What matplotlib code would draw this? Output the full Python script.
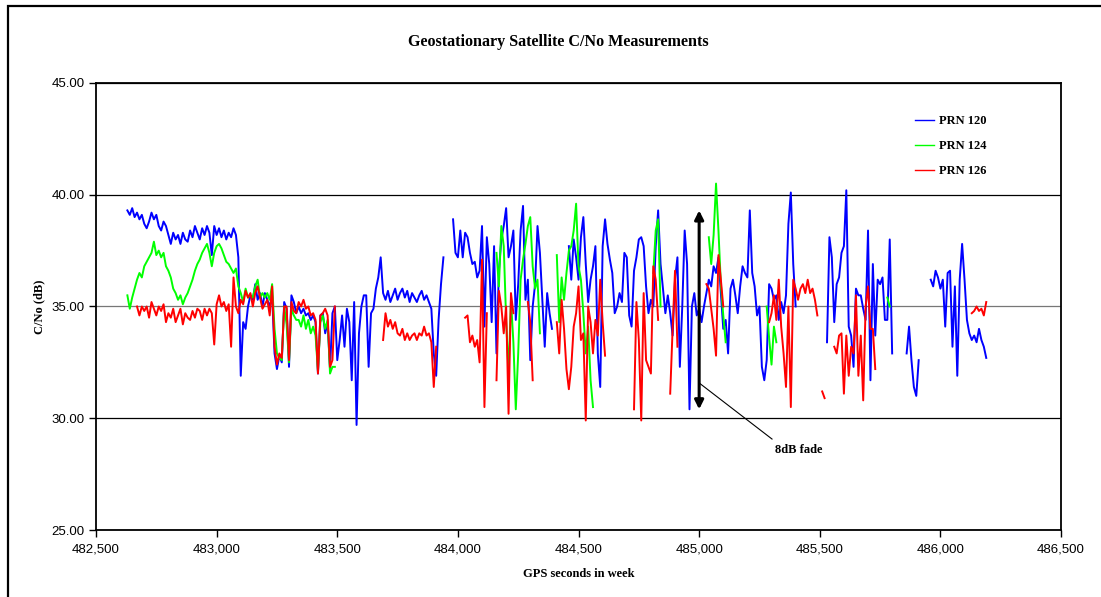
#!/usr/bin/env python3
"""C/No of the three geostationary SBAS satellites over one logging session."""
import numpy as np
import matplotlib
matplotlib.use("Agg")
import matplotlib.pyplot as plt  # noqa: E402
from matplotlib.patches import Rectangle  # noqa: E402
from matplotlib.ticker import FuncFormatter, MultipleLocator  # noqa: E402

STEP = 10  # seconds between logged samples

# (first epoch in GPS seconds of week, C/No in dB every STEP seconds)
PRN120 = [
    (482630, [39.3, 39.1, 39.4, 39.0, 39.2, 38.9, 39.1, 38.7, 38.5, 38.8,
              39.2, 38.9, 39.1, 38.6, 38.4, 38.8, 38.6, 38.2, 37.8, 38.3,
              38.0, 38.2, 37.8, 38.3, 38.0, 37.9, 38.4, 38.1, 38.6, 38.3,
              38.0, 38.5, 38.2, 38.6, 38.3, 37.3, 38.6, 38.2, 38.5, 38.1,
              38.4, 38.0, 38.3, 38.1, 38.5, 38.2, 37.2, 31.9, 34.3, 34.0,
              35.0, 35.5, 35.3, 36.0, 35.3, 35.6, 35.0, 35.6, 35.3, 35.0,
              35.5, 32.9, 32.2, 32.8, 32.5, 35.2, 34.9, 32.3, 35.5, 35.2,
              34.7, 35.0, 34.7, 34.9, 34.6, 34.7, 34.4, 34.6, 34.3, 32.0,
              34.6, 34.7, 33.8, 34.3, 32.2, 34.7, 35.0, 32.6, 33.5, 34.6,
              33.2, 34.9, 34.3, 31.7, 35.2, 29.7, 33.8, 35.0, 35.5, 35.5,
              32.3, 34.7, 34.9, 35.8, 36.3, 37.2, 35.6, 35.3, 35.7, 35.2,
              35.5, 35.8, 35.3, 35.6, 35.8, 35.4, 35.7, 35.2, 35.6, 35.4,
              35.2, 35.5, 35.7, 35.3, 35.5, 35.2, 34.9, 32.9, 31.9, 34.4,
              36.0, 37.2]),
    (483980, [38.9, 37.4, 37.2, 38.4, 37.2, 38.3, 38.1, 37.4, 36.9, 37.0,
              36.3, 36.6, 38.6, 34.1, 38.1, 36.9, 34.3, 37.7, 32.9, 36.6,
              38.0, 38.6, 39.4, 37.2, 37.7, 38.4, 34.4, 36.0, 38.4, 39.5,
              35.3, 36.2, 32.6, 35.0, 36.0, 38.6, 37.4, 35.3, 33.2, 35.6,
              34.7, 34.0]),
    (484460, [37.7, 36.2, 38.0, 37.2, 36.2, 38.1, 39.0, 36.9, 35.2, 36.2,
              36.8, 37.7, 32.9, 31.4, 37.7, 38.9, 37.8, 37.1, 36.5, 34.7,
              35.0, 35.6, 35.2, 37.4, 37.2, 34.6, 34.1, 36.6, 37.2, 38.0,
              38.1, 37.7, 35.9, 34.7, 35.3, 35.0, 37.7, 39.3, 36.9, 35.8,
              34.7, 35.5, 34.7, 33.7, 36.2, 37.2, 32.3, 35.0, 38.4, 36.9,
              30.4, 35.0, 35.6, 34.6, 34.9, 34.3, 35.0, 35.6, 36.2, 35.9,
              36.8, 36.5, 37.2, 35.6, 34.0, 34.4, 32.9, 35.8, 36.2, 35.5,
              34.7, 35.9, 36.8, 36.5, 36.3, 39.3, 36.5, 35.9, 34.6, 35.0,
              32.3, 31.7, 32.6, 36.0, 35.8, 35.3, 35.5, 34.4, 35.2, 34.7,
              35.5, 38.7, 40.1, 36.9, 35.0]),
    (485530, [33.4, 38.1, 37.2, 34.3, 36.0, 36.3, 37.4, 37.7, 40.2, 34.1,
              33.7, 32.3, 35.8, 35.5, 35.5, 34.9, 34.4, 38.4, 31.7, 36.9,
              33.7, 36.2, 36.0, 36.3, 34.4, 34.4, 38.0, 32.9]),
    (485860, [32.9, 34.1, 32.6, 31.4, 31.0, 32.6]),
    (485960, [36.2, 35.9, 36.6, 36.3, 35.8, 36.2, 34.1, 36.5, 36.6, 33.2,
              35.9, 31.9, 36.2, 37.8, 36.2, 34.4, 33.8, 33.5, 33.7, 33.4,
              34.0, 33.5, 33.2, 32.7]),
]

PRN124 = [
    (482630, [35.5, 34.9, 35.4, 35.8, 36.2, 36.5, 36.3, 36.8, 37.0, 37.2,
              37.4, 37.9, 37.3, 37.5, 37.2, 37.4, 36.8, 36.6, 36.3, 35.8,
              35.6, 35.3, 35.5, 35.1, 35.4, 35.6, 35.9, 36.2, 36.6, 36.9,
              37.1, 37.4, 37.6, 37.8, 37.4, 36.8, 37.4, 37.7, 37.8, 37.6,
              37.3, 37.0, 36.9, 36.7, 36.5, 36.7, 35.9, 35.6, 35.2, 35.8,
              35.4, 35.5, 35.4, 35.9, 36.2, 35.4, 35.6, 35.4, 35.6, 35.3,
              36.0, 34.0, 32.9, 32.7, 32.6, 35.0, 34.2, 32.5, 34.9, 34.6,
              34.4, 34.4, 34.1, 34.6, 34.0, 34.4, 33.8, 34.1, 33.7, 32.1,
              34.3, 34.6, 34.0, 34.4, 32.0, 32.3, 32.3]),
    (484160, [37.4, 35.9, 38.6, 37.7, 34.4, 32.0, 35.3, 33.4, 30.4, 32.9,
              36.2, 37.1, 37.8, 38.6, 39.0, 36.8, 35.8, 36.2, 33.8]),
    (484410, [37.3, 34.3, 36.3, 35.3, 36.5, 37.5, 37.7, 38.4, 39.6, 36.8,
              36.2, 34.7, 32.9, 34.1, 31.7, 30.5]),
    (484810, [36.5, 38.4, 38.9, 35.0]),
    (485040, [38.1, 36.9, 38.2, 40.5, 38.4, 36.0, 34.6, 33.4]),
    (485280, [35.0, 33.6, 32.4, 34.1, 33.4]),
    (485780, [35.4, 35.0]),
]

PRN126 = [
    (482670, [35.0, 34.6, 35.0, 34.8, 35.0, 34.5,
              35.2, 34.9, 34.6, 35.0, 34.8, 35.1, 34.3, 34.7, 34.5, 34.9,
              34.3, 34.6, 34.9, 34.2, 34.7, 34.5, 34.4, 34.8, 34.5, 34.9,
              34.8, 34.4, 34.9, 34.6, 34.9, 34.7, 33.3, 35.1, 35.5, 35.0,
              35.2, 34.8, 35.1, 33.2, 36.3, 35.0, 34.7, 35.3, 35.1, 35.7,
              35.4, 35.6, 35.0, 35.6, 35.9, 35.4, 34.9, 35.1, 35.3, 34.6,
              35.9, 33.2, 32.4, 32.9, 32.7, 35.0, 35.0, 32.6, 35.2, 34.8,
              34.7, 35.2, 35.0, 35.3, 34.9, 35.0, 34.6, 34.7, 34.4, 32.0,
              34.6, 34.7, 34.9, 34.6, 32.3, 32.6, 35.0]),
    (483690, [33.5, 34.7, 34.1, 34.4, 34.0, 34.3, 33.8, 33.7, 34.0, 33.5,
              33.8, 33.5, 33.7, 33.8, 33.5, 33.8, 33.7, 34.1, 33.7, 33.8,
              33.4, 31.4, 33.2]),
    (484030, [34.5, 34.6, 33.4, 33.7, 33.2, 33.5, 32.5, 37.1, 30.5, 34.7]),
    (484160, [31.7, 35.7, 35.0, 33.8, 35.0, 30.2, 35.6, 34.7]),
    (484290, [35.2, 34.3, 31.7]),
    (484410, [34.3, 32.9, 35.3, 34.0, 32.2, 31.3, 32.3, 34.1, 34.7, 35.9,
              33.5, 33.8, 29.9, 35.0, 34.3, 32.9, 34.4, 33.7, 36.2, 34.3,
              32.8]),
    (484730, [30.4, 35.2, 33.5, 29.9, 35.6, 32.6, 32.3, 32.0, 36.8, 36.2,
              34.4]),
    (484880, [31.1, 34.0, 36.6, 33.2]),
    (485030, [36.0, 35.8, 34.9, 34.0, 32.8, 37.3, 36.2, 35.0]),
    (485290, [34.3, 34.7, 35.5, 34.4, 36.2, 34.1, 32.9, 31.4, 35.0, 30.5,
              36.2, 35.8, 35.3, 35.8, 36.0, 35.6, 36.2, 35.6, 35.8, 35.3,
              34.6]),
    (485510, [31.2, 30.9]),
    (485560, [33.2, 32.9, 33.7, 33.8, 31.1, 33.7, 31.9, 33.2, 32.9, 35.5,
              31.9, 33.7, 30.8, 35.0, 35.9, 34.0, 34.0, 32.2]),
    (486130, [34.7, 34.8, 35.0, 34.8, 34.9, 34.6, 35.2]),
]

SERIES = [("PRN 120", PRN120, "#0000ff"),
          ("PRN 124", PRN124, "#00ff00"),
          ("PRN 126", PRN126, "#ff0000")]

FADE_TIME = 485000
FADE_TOP, FADE_BOTTOM = 39.3, 30.4

SERIF = ["Liberation Serif", "DejaVu Serif"]
SANS = ["Liberation Sans", "DejaVu Sans"]


def join(segments):
    """Glue tracked stretches into one line, with NaN breaks between them."""
    ts, vs = [], []
    for start, vals in segments:
        ts.append(start + STEP * np.arange(len(vals)))
        vs.append(np.asarray(vals, dtype=float))
        ts.append([np.nan])
        vs.append([np.nan])
    return np.concatenate(ts), np.concatenate(vs)


def main():
    fig = plt.figure(figsize=(11.01, 5.97), dpi=100)
    ax = fig.add_axes([0.0872, 0.1122, 0.8765, 0.7488])

    for label, segs, color in SERIES:
        t, v = join(segs)
        ax.plot(t, v, color=color, lw=1.4, label=label)

    ax.set_xlim(482500, 486500)
    ax.set_ylim(25, 45)
    ax.xaxis.set_major_locator(MultipleLocator(500))
    ax.yaxis.set_major_locator(MultipleLocator(5))
    ax.xaxis.set_major_formatter(FuncFormatter(lambda v, _: f"{v:,.0f}"))
    ax.yaxis.set_major_formatter(FuncFormatter(lambda v, _: f"{v:.2f}"))
    ax.tick_params(direction="out", length=5, width=1, labelsize=9.5, pad=3)
    for lab in ax.get_xticklabels() + ax.get_yticklabels():
        lab.set_fontfamily(SANS)
    ax.tick_params(axis="x", pad=5)

    ax.set_axisbelow(True)
    ax.grid(axis="y", color="black", lw=0.9)
    for line, val in zip(ax.get_ygridlines(), ax.get_yticks()):
        if abs(val - 35) < 1e-6:
            line.set_color("#777777")
    for sp in ax.spines.values():
        sp.set_linewidth(1.3)

    ax.text(0.4793, 1.091, "Geostationary Satellite C/No Measurements",
            transform=ax.transAxes, ha="center", va="center",
            fontsize=11.6, fontweight="bold", family=SERIF)
    ax.set_xlabel("GPS seconds in week", fontsize=9, fontweight="bold", family=SERIF)
    ax.set_ylabel("C/No (dB)", fontsize=9, fontweight="bold", family=SERIF)
    ax.xaxis.set_label_coords(0.5, -0.085)
    ax.yaxis.set_label_coords(-0.053, 0.5)

    leg = ax.legend(loc="upper left", bbox_to_anchor=(0.849, 0.928),
                    frameon=False, handlelength=1.5, handletextpad=0.4,
                    labelspacing=1.05, borderaxespad=0, borderpad=0,
                    prop={"family": SERIF, "weight": "bold", "size": 9})
    for h in leg.get_lines():
        h.set_linewidth(1.0)

    # 8 dB fade marker with its callout
    ax.annotate("", xy=(FADE_TIME, FADE_TOP), xytext=(FADE_TIME, FADE_BOTTOM),
                arrowprops=dict(arrowstyle="<|-|>", lw=2.2, color="black",
                                mutation_scale=13, shrinkA=0, shrinkB=0))
    ax.plot([FADE_TIME, 485302], [31.58, 29.07], color="black", lw=0.8)
    ax.text(485412, 28.58, "8dB fade", ha="center", va="center",
            fontsize=9, fontweight="bold", family=SERIF)

    # outer chart frame
    fig.patches.append(Rectangle((8 / 1101, -0.1), 1.2, 1.1 - 6 / 597,
                                 transform=fig.transFigure, fill=False,
                                 lw=1.6, edgecolor="black"))

    fig.savefig("out.png", dpi=100)
    plt.close(fig)


if __name__ == "__main__":
    main()
